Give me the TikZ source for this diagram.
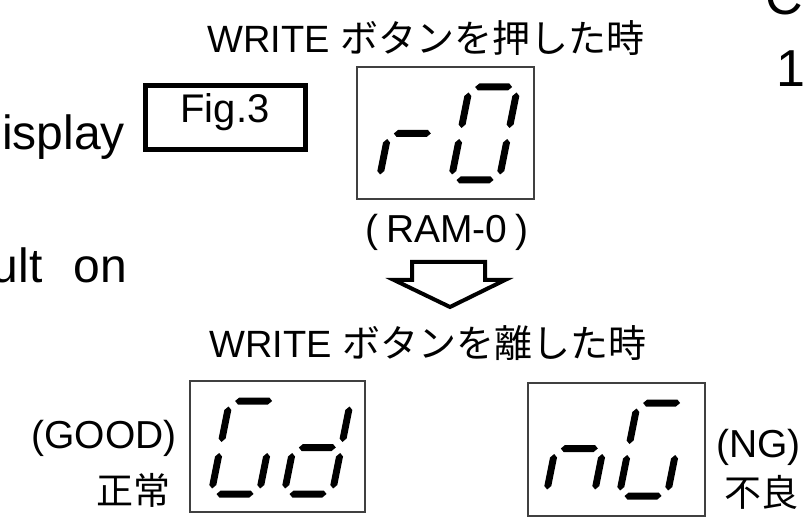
\documentclass[tikz,border=0pt]{standalone}
\usepackage{fontspec}
\setmainfont{Liberation Sans}
\newfontfamily\jp{Noto Sans CJK JP}
\tikzset{
  title/.style={font=\fontsize{38}{44}\selectfont, inner sep=0, anchor=base west},
  body/.style={font=\fontsize{48}{56}\selectfont, inner sep=0},
  big/.style={font=\fontsize{52}{60}\selectfont, inner sep=0},
  lbl/.style={font=\fontsize{39}{46}\selectfont, inner sep=0},
  dispbox/.style={draw=black!75, line width=1.6},
  segfill/.style={fill=black},
}
% horizontal segment: from u=#1 to u=#2 at height #3 (local, y down)
\newcommand{\hseg}[3]{\fill[segfill] (#1,#3) -- ({#1+3.5},{#3-3.5}) -- ({#2-3.5},{#3-3.5}) -- (#2,#3) -- ({#2-3.5},{#3+3.5}) -- ({#1+3.5},{#3+3.5}) -- cycle;}
% vertical segment: at u=#1 from #2 (top) to #3 (bottom)
\newcommand{\vseg}[3]{\fill[segfill] (#1,#2) -- ({#1+3.5},{#2+3.5}) -- ({#1+3.5},{#3-3.5}) -- (#1,#3) -- ({#1-3.5},{#3-3.5}) -- ({#1-3.5},{#2+3.5}) -- cycle;}
\newcommand{\segA}{\hseg{5.5}{42.5}{-93}}
\newcommand{\segB}{\vseg{48}{-87.5}{-52}}
\newcommand{\segC}{\vseg{48}{-41}{-5.5}}
\newcommand{\segD}{\hseg{5.5}{42.5}{0}}
\newcommand{\segE}{\vseg{0}{-41}{-5.5}}
\newcommand{\segF}{\vseg{0}{-87.5}{-52}}
\newcommand{\segG}{\hseg{5.5}{42.5}{-46.5}}
\newcommand{\sevdigit}[3]{\begin{scope}[shift={(#1,#2)}, xslant=0.2]#3\end{scope}}
\begin{document}
\begin{tikzpicture}[x=1pt,y=-1pt]
\useasboundingbox (0,0) rectangle (806,521);
% left body text fragments
\node[body, anchor=base east] (disp) at (125,150) {isplay};
\node[body, anchor=base east] (ulton) at (127,283) {ult\hspace{31pt}on};
% right body text fragments
\node[big, anchor=base west] (cc) at (765,15) {C};
\node[big, anchor=base west] (one) at (776,87) {1};
% Fig.3 box
\draw[line width=5] (145.5,85.5) rectangle (305.5,149.5);
\node[font=\fontsize{40}{46}\selectfont, inner sep=0, anchor=base] (fig) at (225,123) {Fig.3};
% top display
\node[title] (t1) at (207,53) {WRITE {\jp ボタンを押した時}};
\draw[dispbox] (357,67) rectangle (534,199);
\sevdigit{379}{180}{\segE\segG}
\sevdigit{451}{180}{\segA\segB\segC\segD\segE\segF}
\node[lbl, anchor=base west] (ram) at (365,243) {(\hspace{8pt}RAM-0\hspace{8pt})};
% hollow arrow
\draw[line width=4, line join=miter] (412,262) -- (485,262) -- (485,280) -- (505,280) -- (450,307) -- (394,280) -- (412,280) -- cycle;
% second title
\node[title] (t2) at (209,358) {WRITE {\jp ボタンを離した時}};
% GOOD display
\draw[dispbox] (190,381) rectangle (365,512);
\sevdigit{211}{494}{\segA\segC\segD\segE\segF}
\sevdigit{284}{494}{\segB\segC\segD\segE\segG}
\node[lbl, anchor=base east] (good) at (177,448) {(GOOD)};
\node[font=\fontsize{37}{44}\selectfont, inner sep=0, anchor=base east] (seijo) at (171,504) {\jp 正常};
% NG display
\draw[dispbox] (528,383) rectangle (705,516);
\sevdigit{546}{495}{\segC\segE\segG}
\sevdigit{619}{496}{\segA\segC\segD\segE\segF}
\node[lbl, anchor=base west] (ng) at (716,457) {(NG)};
\node[font=\fontsize{37}{44}\selectfont, inner sep=0, anchor=base west] (furyo) at (724,506) {\jp 不良};
\end{tikzpicture}
\end{document}
